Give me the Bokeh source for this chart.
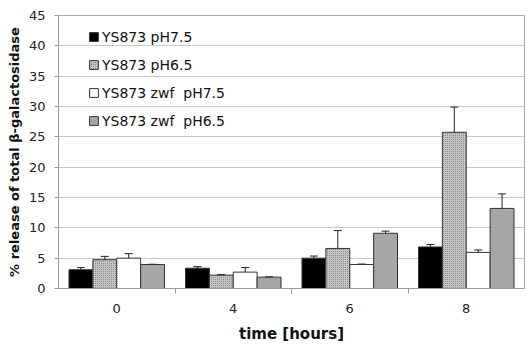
from bokeh.plotting import figure
from bokeh.models import ColumnDataSource, Whisker, FixedTicker, Legend, LegendItem, TeeHead
from bokeh.embed import file_html
from bokeh.resources import INLINE

times = ["0", "4", "6", "8"]
series_names = ["YS873 pH7.5", "YS873 pH6.5", "YS873 zwf  pH7.5", "YS873 zwf  pH6.5"]
ys_ph75 = [3.1, 3.35, 5.0, 6.85]
ys_ph65 = [4.75, 2.2, 6.6, 25.75]
zwf_ph75 = [5.0, 2.7, 3.95, 5.95]
zwf_ph65 = [3.95, 1.87, 9.1, 13.2]
err_ys_ph75 = [0.35, 0.25, 0.35, 0.4]
err_ys_ph65 = [0.55, 0.1, 2.95, 4.15]
err_zwf_ph75 = [0.75, 0.75, 0.08, 0.4]
err_zwf_ph65 = [0.05, 0.05, 0.35, 2.4]

values = [ys_ph75, ys_ph65, zwf_ph75, zwf_ph65]
errors = [err_ys_ph75, err_ys_ph65, err_zwf_ph75, err_zwf_ph65]
fills = ["#000000", "#c4c4c4", "#ffffff", "#a6a6a6"]
hatches = [None, "dot", None, None]

p = figure(frame_width=466, frame_height=273, x_range=(0, 4), y_range=(0, 45),
           output_backend="svg", toolbar_location=None,
           min_border_left=58, min_border_right=1, min_border_top=15, min_border_bottom=0)

w = 0.205
offsets = [-1.5 * w, -0.5 * w, 0.5 * w, 1.5 * w]
centers = [i + 0.5 for i in range(len(times))]

items = []
for k in range(4):
    xs = [c + offsets[k] for c in centers]
    top = values[k]
    err = errors[k]
    src = ColumnDataSource(dict(x=xs, top=top,
                                upper=[t + e for t, e in zip(top, err)],
                                lower=[t - e for t, e in zip(top, err)]))
    kw = {}
    if hatches[k]:
        kw = dict(hatch_pattern=hatches[k], hatch_color="#7a7a7a", hatch_scale=2, hatch_weight=1)
    r = p.vbar(x="x", top="top", width=w, source=src, fill_color=fills[k],
               line_color="#333333", line_width=1, **kw)
    wh = Whisker(base="x", upper="upper", lower="lower", source=src,
                 line_color="#222222", line_width=1,
                 upper_head=TeeHead(size=8, line_color="#222222"),
                 lower_head=TeeHead(size=8, line_color="#222222"))
    p.add_layout(wh)
    items.append(LegendItem(label=series_names[k], renderers=[r]))

legend = Legend(items=items, location=(30, 157), padding=0, margin=0,
                spacing=7, label_height=21, glyph_height=11, glyph_width=11,
                label_text_font="DejaVu Sans", label_text_font_size="14px",
                label_text_color="#111111", label_standoff=3,
                background_fill_alpha=0, border_line_alpha=0)
p.add_layout(legend, "center")

p.xaxis.ticker = FixedTicker(ticks=centers, minor_ticks=[1, 2, 3])
p.xaxis.major_label_overrides = {c: t for c, t in zip(centers, times)}
p.xaxis.major_tick_out = 0
p.xaxis.major_tick_in = 0
p.xaxis.minor_tick_out = 5
p.xaxis.minor_tick_in = 0
p.xaxis.axis_line_color = "#999999"
p.xaxis.minor_tick_line_color = "#999999"
p.xaxis.axis_label = "time [hours]"
p.xaxis.axis_label_text_font = "DejaVu Sans"
p.xaxis.axis_label_text_font_size = "15px"
p.xaxis.axis_label_text_font_style = "bold"
p.xaxis.axis_label_standoff = 9
p.xaxis.major_label_standoff = 10

p.yaxis.ticker = FixedTicker(ticks=list(range(0, 50, 5)))
p.yaxis.axis_label = "% release of total β-galactosidase"
p.yaxis.axis_label_text_font = "DejaVu Sans"
p.yaxis.axis_label_text_font_size = "13px"
p.yaxis.axis_label_text_font_style = "bold"
p.yaxis.axis_label_standoff = 4
p.yaxis.major_tick_out = 4
p.yaxis.major_tick_in = 0
p.yaxis.major_label_standoff = 9
p.yaxis.minor_tick_line_color = None
p.yaxis.axis_line_color = "#999999"
p.yaxis.major_tick_line_color = "#999999"

for ax in [p.xaxis, p.yaxis]:
    ax.major_label_text_font = "DejaVu Sans"
    ax.major_label_text_font_size = "13px"
    ax.major_label_text_color = "#222222"
    ax.axis_label_text_color = "#111111"

p.xgrid.grid_line_color = None
p.ygrid.grid_line_color = "#c8c8c8"
p.ygrid.ticker = FixedTicker(ticks=list(range(5, 50, 5)))
p.outline_line_color = "#aaaaaa"
p.background_fill_color = "white"

open("out.html", "w").write(file_html(p, INLINE))
